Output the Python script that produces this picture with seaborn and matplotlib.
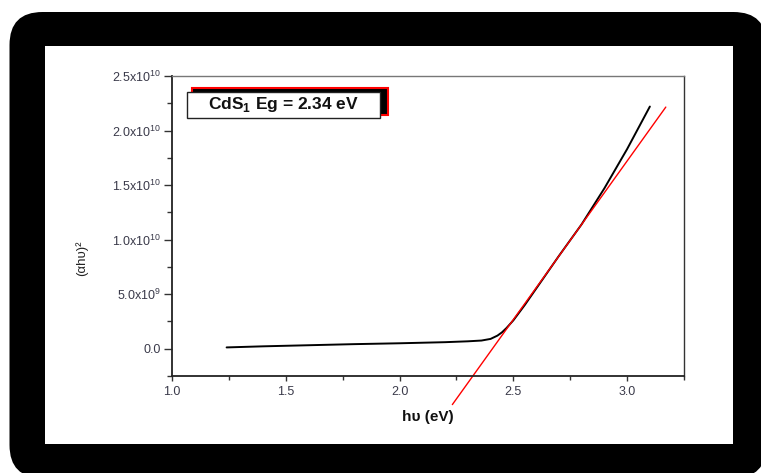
import numpy as np
import pandas as pd
import matplotlib
matplotlib.use("Agg")
import matplotlib.pyplot as plt
import seaborn as sns
from matplotlib.patches import FancyBboxPatch, Rectangle
from matplotlib.transforms import IdentityTransform
from matplotlib.ticker import MultipleLocator

# ---- data ----
hv = [1.24, 1.40, 1.60, 1.80, 2.00, 2.20, 2.30, 2.36, 2.40, 2.43, 2.45, 2.47,
      2.50, 2.55, 2.60, 2.70, 2.80, 2.90, 3.00, 3.10]
ahv2 = [0.12e9, 0.22e9, 0.32e9, 0.42e9, 0.50e9, 0.60e9, 0.68e9, 0.75e9, 0.90e9,
        1.20e9, 1.50e9, 1.90e9, 2.60e9, 4.00e9, 5.50e9, 8.50e9, 11.4e9, 14.7e9,
        18.3e9, 22.2e9]
fit_x = [2.232, 3.17]
fit_y = [-5.12e9, 2.215e10]
xticks = [1.0, 1.5, 2.0, 2.5, 3.0]
xticklabels = ["1.0", "1.5", "2.0", "2.5", "3.0"]
yticks = [0.0, 5e9, 1e10, 1.5e10, 2e10, 2.5e10]
yticklabels = ["0.0", r"$\mathregular{5.0x10^{9}}$", r"$\mathregular{1.0x10^{10}}$",
               r"$\mathregular{1.5x10^{10}}$", r"$\mathregular{2.0x10^{10}}$",
               r"$\mathregular{2.5x10^{10}}$"]
legend_text = r"CdS$_\mathbf{1}$ Eg = 2.34 eV"

sns.set_style("white")
plt.rcParams["font.family"] = ["Liberation Sans", "DejaVu Sans"]
plt.rcParams["mathtext.fontset"] = "custom"
plt.rcParams["mathtext.rm"] = "Liberation Sans"
plt.rcParams["mathtext.bf"] = "Liberation Sans:bold"

W, H = 761, 473
fig = plt.figure(figsize=(W / 100, H / 100), dpi=100)
fig.patch.set_facecolor("white")

# frame
outer = FancyBboxPatch((9.5, -5), 757, 466, boxstyle="round,pad=0,rounding_size=33",
                       transform=IdentityTransform(), facecolor="black",
                       edgecolor="none", zorder=-2)
inner = Rectangle((45, 29), 688, 398, transform=IdentityTransform(),
                  facecolor="white", edgecolor="none", zorder=-1)
fig.patches.extend([outer, inner])

ax = fig.add_axes([172 / W, (H - 376) / H, (684 - 172) / W, (376 - 76) / H])
ax.set_zorder(1)
ax.set_facecolor("white")

df = pd.DataFrame({"hv": hv, "ahv2": ahv2})
fit = pd.DataFrame({"hv": fit_x, "ahv2": fit_y})
sns.lineplot(data=df, x="hv", y="ahv2", color="black", lw=1.4, ax=ax)
sns.lineplot(data=fit, x="hv", y="ahv2", color="red", lw=1.0, ax=ax)
ax.lines[-1].set_clip_on(False)

ax.set_xlim(1.0, 3.25)
ax.set_ylim(-2.5e9, 2.5e10)
ax.set_xticks(xticks)
ax.set_xticklabels(xticklabels)
ax.set_yticks(yticks)
ax.set_yticklabels(yticklabels)
ax.xaxis.set_minor_locator(MultipleLocator(0.25))
ax.yaxis.set_minor_locator(MultipleLocator(2.5e9))
ax.tick_params(axis="both", which="both", direction="out", width=1,
               labelsize=9, labelcolor="#3a3a4a", color="#333333",
               bottom=True, left=True)
ax.tick_params(axis="x", which="major", length=3.5, pad=4)
ax.tick_params(axis="x", which="minor", length=3)
ax.tick_params(axis="y", which="major", length=6, pad=2)
ax.tick_params(axis="y", which="minor", length=3.5)

for s in ["left", "bottom"]:
    ax.spines[s].set_color("#222222")
    ax.spines[s].set_linewidth(1.3)
ax.spines["top"].set_color("#777777")
ax.spines["top"].set_linewidth(1.0)
ax.spines["right"].set_color("#333333")
ax.spines["right"].set_linewidth(1.0)

ax.set_xlabel("hυ (eV)", fontsize=11, fontweight="bold", color="#111111", labelpad=8)
ax.set_ylabel("(αhυ)²", fontsize=9.5, color="#222222")
ax.yaxis.set_label_coords((88 - 172) / 512, (376 - 258) / 300)

# legend-like box with shadow
shadow = Rectangle((191.7, 358), 196.6, 26.7, transform=IdentityTransform(),
                   facecolor="black", edgecolor="red", lw=1.5, zorder=5)
box = Rectangle((186.7, 354.7), 193.3, 26.6, transform=IdentityTransform(),
                facecolor="white", edgecolor="#222222", lw=1.0, zorder=6)
fig.patches.extend([shadow, box])
fig.text(283.3 / W, 368 / H, legend_text, ha="center", va="center",
         fontsize=12.5, fontweight="bold", color="#111111", zorder=7)

fig.savefig("out.png", dpi=100, facecolor="white")
